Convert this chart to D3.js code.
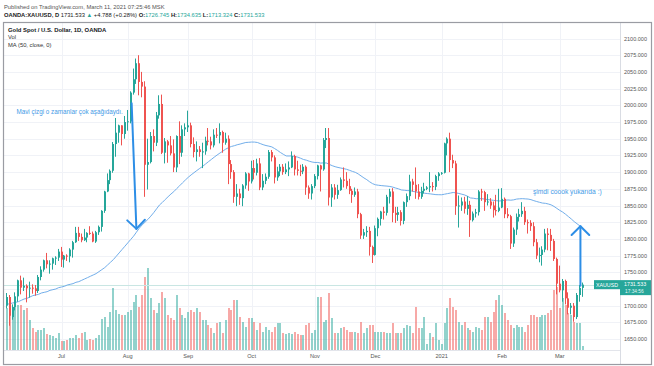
<!DOCTYPE html>
<html><head><meta charset="utf-8">
<script src="https://cdn.jsdelivr.net/npm/d3@7"></script>
<style>html,body{margin:0;padding:0;background:#fff;overflow:hidden}svg text{font-family:"Liberation Sans",Arial,sans-serif}</style>
</head><body><svg id="c" width="654" height="366"></svg>
<script>
const dates = [
"2020-06-04","2020-06-05","2020-06-08","2020-06-09","2020-06-10","2020-06-11","2020-06-12","2020-06-15","2020-06-16","2020-06-17","2020-06-18","2020-06-19","2020-06-22","2020-06-23","2020-06-24","2020-06-25","2020-06-26","2020-06-29","2020-06-30",
"2020-07-01","2020-07-02","2020-07-03","2020-07-06","2020-07-07","2020-07-08","2020-07-09","2020-07-10","2020-07-13","2020-07-14","2020-07-15","2020-07-16","2020-07-17","2020-07-20","2020-07-21","2020-07-22","2020-07-23","2020-07-24","2020-07-27","2020-07-28","2020-07-29","2020-07-30","2020-07-31",
"2020-08-03","2020-08-04","2020-08-05","2020-08-06","2020-08-07","2020-08-10","2020-08-11","2020-08-12","2020-08-13","2020-08-14","2020-08-17","2020-08-18","2020-08-19","2020-08-20","2020-08-21","2020-08-24","2020-08-25","2020-08-26","2020-08-27","2020-08-28","2020-08-31",
"2020-09-01","2020-09-02","2020-09-03","2020-09-04","2020-09-07","2020-09-08","2020-09-09","2020-09-10","2020-09-11","2020-09-14","2020-09-15","2020-09-16","2020-09-17","2020-09-18","2020-09-21","2020-09-22","2020-09-23","2020-09-24","2020-09-25","2020-09-28","2020-09-29","2020-09-30",
"2020-10-01","2020-10-02","2020-10-05","2020-10-06","2020-10-07","2020-10-08","2020-10-09","2020-10-12","2020-10-13","2020-10-14","2020-10-15","2020-10-16","2020-10-19","2020-10-20","2020-10-21","2020-10-22","2020-10-23","2020-10-26","2020-10-27","2020-10-28","2020-10-29","2020-10-30",
"2020-11-02","2020-11-03","2020-11-04","2020-11-05","2020-11-06","2020-11-09","2020-11-10","2020-11-11","2020-11-12","2020-11-13","2020-11-16","2020-11-17","2020-11-18","2020-11-19","2020-11-20","2020-11-23","2020-11-24","2020-11-25","2020-11-26","2020-11-27","2020-11-30",
"2020-12-01","2020-12-02","2020-12-03","2020-12-04","2020-12-07","2020-12-08","2020-12-09","2020-12-10","2020-12-11","2020-12-14","2020-12-15","2020-12-16","2020-12-17","2020-12-18","2020-12-21","2020-12-22","2020-12-23","2020-12-24","2020-12-25","2020-12-28","2020-12-29","2020-12-30","2020-12-31",
"2021-01-01","2021-01-04","2021-01-05","2021-01-06","2021-01-07","2021-01-08","2021-01-11","2021-01-12","2021-01-13","2021-01-14","2021-01-15","2021-01-18","2021-01-19","2021-01-20","2021-01-21","2021-01-22","2021-01-25","2021-01-26","2021-01-27","2021-01-28","2021-01-29",
"2021-02-01","2021-02-02","2021-02-03","2021-02-04","2021-02-05","2021-02-08","2021-02-09","2021-02-10","2021-02-11","2021-02-12","2021-02-15","2021-02-16","2021-02-17","2021-02-18","2021-02-19","2021-02-22","2021-02-23","2021-02-24","2021-02-25","2021-02-26",
"2021-03-01","2021-03-02","2021-03-03","2021-03-04","2021-03-05","2021-03-08","2021-03-09","2021-03-10","2021-03-11"];

const open = [
1700,1713,1683,1698,1714,1738,1727,1730,1726,1727,1726,1722,1743,1754,1768,1762,1763,1771,1772,
1781,1769,1775,1774,1784,1795,1809,1803,1798,1802,1809,1808,1796,1810,1818,1842,1871,1888,1902,1942,1959,1970,1957,
1975,1976,2019,2039,2063,2035,2028,1911,1915,1954,1944,1985,2002,1929,1946,1940,1928,1907,1954,1929,1964,
1967,1970,1942,1930,1934,1930,1931,1947,1946,1940,1956,1955,1960,1944,1950,1912,1900,1863,1868,1861,1880,1898,
1886,1906,1899,1913,1877,1887,1893,1930,1922,1892,1901,1908,1900,1904,1907,1924,1904,1902,1901,1908,1877,1868,
1879,1894,1910,1904,1948,1951,1862,1877,1866,1873,1889,1887,1879,1872,1866,1871,1837,1805,1810,1812,1788,
1776,1816,1830,1841,1839,1863,1871,1839,1836,1840,1827,1855,1864,1886,1881,1871,1863,1872,1875,1877,1879,1878,1894,
1898,1899,1943,1950,1918,1913,1849,1850,1856,1845,1851,1828,1838,1840,1871,1870,1855,1856,1850,1843,1842,
1847,1860,1837,1834,1793,1814,1833,1837,1842,1825,1824,1819,1795,1775,1776,1784,1808,1806,1797,1770,
1733,1723,1737,1711,1697,1700,1683,1716,1726.745];

const high = [
1719,1716,1702,1720,1739,1745,1742,1732,1736,1732,1731,1746,1759,1769,1779,1768,1772,1774,1785,
1788,1776,1777,1786,1797,1818,1818,1808,1815,1810,1819,1811,1812,1820,1843,1872,1898,1904,1945,1981,1971,1970,1984,
1993,2021,2055,2070,2075,2050,2036,1950,1960,1964,1990,2015,2016,1951,1948,1954,1949,1955,1976,1970,1973,
1992,1974,1952,1946,1939,1944,1953,1966,1953,1964,1966,1973,1962,1959,1955,1918,1903,1882,1875,1882,1900,1899,
1917,1918,1920,1921,1897,1898,1933,1933,1925,1908,1912,1912,1913,1916,1931,1926,1917,1911,1912,1910,1880,1882,
1897,1911,1911,1951,1966,1966,1882,1882,1881,1892,1907,1900,1890,1875,1877,1875,1839,1815,1819,1818,1790,
1820,1832,1842,1848,1866,1875,1876,1848,1848,1843,1856,1868,1896,1890,1907,1882,1878,1884,1879,1900,1885,1896,1900,
1900,1944,1952,1959,1926,1917,1865,1862,1863,1864,1857,1841,1845,1873,1875,1872,1867,1861,1856,1866,1875,
1876,1862,1846,1836,1817,1838,1845,1855,1848,1829,1828,1825,1800,1787,1789,1815,1816,1815,1800,1772,
1760,1740,1739,1720,1704,1704,1719,1731,1734.635];

const low = [
1696,1670,1679,1693,1706,1717,1722,1705,1712,1718,1715,1719,1738,1751,1756,1748,1754,1761,1767,
1758,1757,1767,1765,1772,1794,1797,1795,1797,1795,1806,1795,1794,1806,1811,1839,1870,1882,1899,1923,1944,1940,1950,
1962,1973,2016,2032,2015,2012,1863,1874,1913,1931,1939,1980,1927,1913,1914,1925,1900,1900,1912,1923,1954,
1960,1937,1922,1916,1923,1906,1926,1940,1934,1937,1951,1943,1929,1941,1882,1890,1854,1849,1851,1849,1875,1872,
1883,1889,1895,1873,1873,1882,1890,1916,1883,1887,1894,1896,1897,1894,1906,1895,1895,1894,1897,1866,1860,1859,
1876,1889,1871,1902,1936,1850,1848,1859,1860,1872,1877,1875,1867,1854,1863,1831,1800,1800,1803,1775,1764,
1775,1804,1820,1829,1835,1853,1825,1824,1827,1820,1822,1848,1858,1871,1860,1859,1860,1868,1873,1870,1871,1873,1887,
1896,1898,1925,1900,1906,1836,1817,1842,1838,1836,1803,1826,1832,1835,1857,1842,1850,1845,1832,1835,1840,
1846,1831,1831,1785,1788,1806,1826,1833,1821,1808,1812,1789,1770,1765,1760,1780,1783,1782,1767,1717,
1720,1706,1702,1687,1687,1676,1680,1706,1713.324];

const close = [
1713,1685,1698,1714,1738,1727,1730,1726,1727,1726,1722,1743,1754,1768,1762,1763,1771,1772,1781,
1769,1775,1774,1784,1795,1809,1803,1798,1802,1809,1808,1796,1810,1818,1842,1871,1888,1902,1942,1959,1970,1957,1975,
1976,2019,2039,2063,2035,2028,1911,1915,1954,1944,1985,2002,1929,1946,1940,1928,1907,1954,1929,1964,1967,
1970,1942,1930,1934,1930,1931,1947,1946,1940,1956,1955,1960,1944,1950,1912,1900,1863,1868,1861,1880,1898,1886,
1906,1899,1913,1877,1887,1893,1930,1922,1892,1901,1908,1900,1904,1907,1924,1904,1902,1901,1908,1877,1868,1879,
1894,1910,1904,1948,1951,1862,1877,1866,1873,1889,1887,1879,1872,1866,1871,1837,1805,1810,1812,1788,1776,
1816,1830,1841,1839,1863,1871,1839,1836,1840,1827,1855,1864,1886,1881,1871,1863,1872,1875,1877,1879,1878,1894,1898,
1899,1943,1950,1918,1913,1849,1850,1856,1845,1851,1828,1838,1840,1871,1870,1855,1856,1850,1843,1842,1847,
1860,1837,1834,1793,1814,1833,1837,1842,1825,1824,1819,1795,1775,1776,1784,1808,1806,1797,1770,1733,
1723,1737,1711,1697,1700,1683,1716,1726.745,1731.533];

const volume = [
42,43,43,52,45,45,40,42,30,22,18,20,20,22,16,15,14,12,17,
9,9,10,12,12,15,12,17,18,10,11,10,12,15,31,33,23,38,62,40,36,35,35,
38,40,48,55,43,55,73,82,52,40,37,47,58,52,35,32,30,55,42,35,32,
38,40,38,42,38,30,30,25,22,17,27,28,17,30,42,40,50,50,33,28,23,32,
32,28,20,27,18,23,20,18,23,27,27,17,16,17,16,18,16,15,15,25,27,17,
20,53,53,28,30,57,32,17,17,22,23,20,18,18,18,17,28,17,22,25,25,
18,18,18,18,17,17,27,17,17,17,22,25,24,17,43,22,22,33,6,17,13,27,10,
6,27,42,52,43,40,28,25,28,22,20,18,23,22,20,33,33,28,38,50,55,
45,37,30,25,22,25,23,23,18,25,35,35,33,33,35,35,37,40,60,63,
42,52,45,37,35,28,27,27,4];

// MA(50) values for the bars whose 50-bar window starts before the first visible bar
const maEarly = [
1702,1703,1704,1705,1706,1708,1710,1711,1713,1715,1716,1717,1719,1720,1721,1723,1724,1725,1727,1728,
1729,1731,1732,1733,1735,1736,1738,1740,1742,1744,1746,1748,1751,1754,1757,1761,1765,1769,1774,1779,
1784,1789,1794,1799,1804,1810,1816,1821,1825];

const priceTicks = [1650,1675,1700,1725,1750,1775,1800,1825,1850,1875,1900,1925,1950,1975,2000,2025,2050,2075,2100];
const monthTickDates = ["2020-07-01","2020-08-03","2020-09-01","2020-10-01","2020-11-02","2020-12-01","2021-01-01","2021-02-01","2021-03-01"];
const monthTickLabels = ["Jul","Aug","Sep","Oct","Nov","Dec","2021","Feb","Mar"];

const lastPrice = 1731.533;
const lastTime = "17:34:56";
const symbolTag = "XAUUSD";

const annotations = [
  {text:"Mavi çizgi o zamanlar çok aşağıdaydı.", date:"2020-06-09", price:1990, dx:1, size:6.3},
  {text:"şimdi coook yukarıda :)", date:"2021-02-15", price:1870, dx:2, size:6.7}
];
const arrows = [
  {from:{date:"2020-08-04", price:2003}, to:{date:"2020-08-06", price:1815}, dx1:1, dx2:0},
  {from:{date:"2021-03-10", price:1730}, to:{date:"2021-03-10", price:1819}, dx1:0.5, dx2:0.5}
];

// ---------- drawing ----------
const W = 654, H = 366;
const plot = {left:4, right:620, top:23, bottom:350};
const svg = d3.select("#c");
svg.append("rect").attr("width",W).attr("height",H).attr("fill","#fff");

const x = d3.scaleBand().domain(dates).range([5.36, 5.36 + 2.88*dates.length]).paddingInner(0);
const cx = d => x(d) + x.bandwidth()/2;
const y = d3.scaleLinear().domain([1650, 2100]).range([339.1, 38.5]);
const yv = d3.scaleLinear().domain([0, 100]).range([plot.bottom, plot.bottom - 100]);

svg.append("defs").append("clipPath").attr("id","clip")
  .append("rect").attr("x",plot.left).attr("y",plot.top).attr("width",plot.right-plot.left).attr("height",plot.bottom-plot.top);

// header
svg.append("text").attr("x",4).attr("y",8.5).attr("font-size",5.8).attr("fill","#555")
  .text("Published on TradingView.com, March 11, 2021 07:25:46 MSK");
const h2 = svg.append("text").attr("x",4).attr("y",17).attr("font-size",5.8).attr("fill","#222");
h2.append("tspan").attr("font-weight","bold").text("OANDA:XAUUSD, D ");
h2.append("tspan").text("1731.533 ");
h2.append("tspan").attr("fill","#26a69a").text("▲ ");
h2.append("tspan").text("+4.788 (+0.28%) ");
[["O:","1726.745"],["H:","1734.635"],["L:","1713.324"],["C:","1731.533"]].forEach(([k,v])=>{
  h2.append("tspan").attr("font-weight","bold").text(k);
  h2.append("tspan").attr("fill","#26a69a").text(v+" ");
});

// grid
const grid = svg.append("g").attr("clip-path","url(#clip)");
grid.selectAll("line.h").data(priceTicks).join("line")
  .attr("x1",plot.left).attr("x2",plot.right)
  .attr("y1",d=>Math.round(y(d))+0.5).attr("y2",d=>Math.round(y(d))+0.5)
  .attr("stroke","#f0f2f7").attr("stroke-width",1);
grid.selectAll("line.v").data(monthTickDates).join("line")
  .attr("x1",d=>Math.round(cx(d))+0.5).attr("x2",d=>Math.round(cx(d))+0.5)
  .attr("y1",plot.top).attr("y2",plot.bottom)
  .attr("stroke","#f0f2f7").attr("stroke-width",1);

const chart = svg.append("g").attr("clip-path","url(#clip)");
const idx = d3.range(dates.length);
const isUp = i => close[i] >= open[i];

// volume
chart.selectAll("rect.vol").data(idx).join("rect")
  .attr("x",i=>Math.round(cx(dates[i]))-1).attr("width",2)
  .attr("y",i=>yv(volume[i])).attr("height",i=>plot.bottom - yv(volume[i]))
  .attr("fill",i=>isUp(i)?"rgba(38,166,154,0.5)":"rgba(239,83,80,0.5)");

// last price line
chart.append("line").attr("x1",plot.left).attr("x2",plot.right)
  .attr("y1",Math.round(y(lastPrice))+0.5).attr("y2",Math.round(y(lastPrice))+0.5)
  .attr("stroke","#c9e6e3").attr("stroke-width",1);

// MA 50
const ma = idx.map(i => i < maEarly.length ? maEarly[i] : d3.mean(close.slice(i-49, i+1)));
chart.append("path").datum(idx)
  .attr("d", d3.line().x(i=>cx(dates[i])).y(i=>y(ma[i])))
  .attr("fill","none").attr("stroke","#72aeea").attr("stroke-width",1);

// candles
const cg = chart.append("g");
cg.selectAll("rect.wick").data(idx).join("rect")
  .attr("x",i=>Math.round(cx(dates[i]))-1).attr("width",1)
  .attr("y",i=>y(high[i])).attr("height",i=>Math.max(1,y(low[i])-y(high[i])))
  .attr("fill",i=>isUp(i)?"#26a69a":"#ef5350");
cg.selectAll("rect.body").data(idx).join("rect")
  .attr("x",i=>Math.round(cx(dates[i]))-1).attr("width",2)
  .attr("y",i=>y(Math.max(open[i],close[i])))
  .attr("height",i=>Math.max(1,Math.abs(y(open[i])-y(close[i]))))
  .attr("fill",i=>isUp(i)?"#26a69a":"#ef5350");

// annotations
const ann = svg.append("g");
annotations.forEach(a=>{
  ann.append("text").attr("x",cx(a.date)+a.dx).attr("y",y(a.price)+2.2)
    .attr("font-size",a.size).attr("fill","#3f9ae6").text(a.text);
});
arrows.forEach(a=>{
  const x1 = cx(a.from.date)+a.dx1, y1 = y(a.from.price);
  const x2 = cx(a.to.date)+a.dx2, y2 = y(a.to.price);
  const ang = Math.atan2(y2-y1, x2-x1), L = 12.5;
  const p1 = [x2 - L*Math.cos(ang - Math.PI/4), y2 - L*Math.sin(ang - Math.PI/4)];
  const p2 = [x2 - L*Math.cos(ang + Math.PI/4), y2 - L*Math.sin(ang + Math.PI/4)];
  ann.append("line").attr("x1",x1).attr("y1",y1).attr("x2",x2).attr("y2",y2)
    .attr("stroke","#2d8ee6").attr("stroke-width",2).attr("stroke-linecap","round");
  ann.append("path").attr("d",`M${p1[0]},${p1[1]}L${x2},${y2}L${p2[0]},${p2[1]}`)
    .attr("fill","none").attr("stroke","#2d8ee6").attr("stroke-width",2)
    .attr("stroke-linecap","round").attr("stroke-linejoin","round");
});

// legend
svg.append("text").attr("x",8).attr("y",31.5).attr("font-size",5.9).attr("font-weight","bold").attr("fill","#131722")
  .text("Gold Spot / U.S. Dollar, 1D, OANDA");
svg.append("text").attr("x",8).attr("y",39).attr("font-size",5.8).attr("fill","#333").text("Vol");
svg.append("text").attr("x",8).attr("y",46.5).attr("font-size",5.8).attr("fill","#333").text("MA (50, close, 0)");

// price axis
const ly = y(lastPrice);
svg.append("line").attr("x1",plot.right+0.5).attr("x2",plot.right+0.5).attr("y1",plot.top).attr("y2",364)
  .attr("stroke","#d9dce3");
svg.append("g").selectAll("text").data(priceTicks.filter(d => Math.abs(y(d) - (ly+3)) > 9)).join("text")
  .attr("x",624).attr("y",d=>y(d)+2).attr("font-size",5.5).attr("fill","#555")
  .text(d=>d3.format(".3f")(d));

// time axis
svg.append("line").attr("x1",plot.left).attr("x2",plot.right).attr("y1",plot.bottom+0.5).attr("y2",plot.bottom+0.5)
  .attr("stroke","#e3e5eb");
svg.append("g").selectAll("text").data(monthTickDates).join("text")
  .attr("x",d=>cx(d)).attr("y",357.5).attr("text-anchor","middle").attr("font-size",5.6).attr("fill","#555")
  .text((d,i)=>monthTickLabels[i]);

// last price boxes
svg.append("rect").attr("x",594).attr("y",ly-4.5).attr("width",26).attr("height",9).attr("fill","#26a69a");
svg.append("text").attr("x",607).attr("y",ly+2).attr("text-anchor","middle").attr("font-size",5.3).attr("fill","#fff").text(symbolTag);
svg.append("rect").attr("x",620).attr("y",ly-4.5).attr("width",31).attr("height",15).attr("fill","#26a69a");
svg.append("text").attr("x",624).attr("y",ly+1.6).attr("font-size",5.3).attr("fill","#fff").text(d3.format(".3f")(lastPrice));
svg.append("text").attr("x",625).attr("y",ly+8.3).attr("font-size",4.8).attr("fill","#e6f6f4").text(lastTime);

// frame
svg.append("rect").attr("x",3.5).attr("y",22.5).attr("width",648).attr("height",342)
  .attr("fill","none").attr("stroke","#9a9ca3").attr("stroke-width",1.2);
</script></body></html>
